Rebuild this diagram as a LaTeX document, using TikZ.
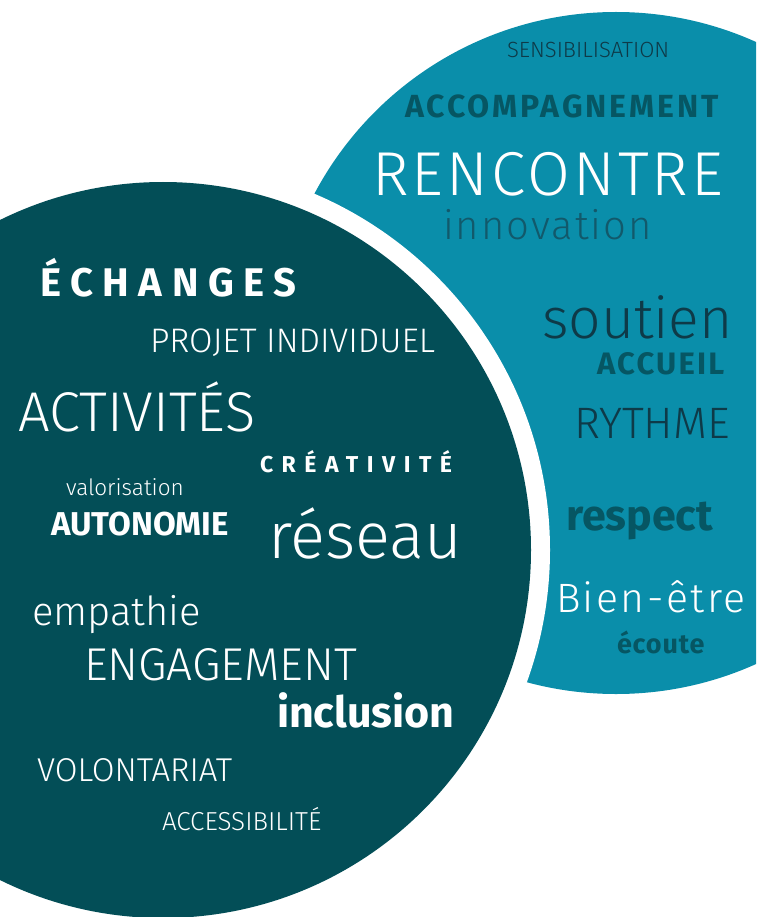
\documentclass[tikz,border=0pt]{standalone}
\usepackage{fontspec}
\setmainfont{Fira Sans Light}[BoldFont={Fira Sans Bold}]
\newcommand{\fsz}[1]{\fontsize{#1}{#1}\selectfont}
\newcommand{\spaced}[1]{\addfontfeatures{LetterSpace=#1}}
\definecolor{circdark}{HTML}{034E57}
\definecolor{circlight}{HTML}{0A8EAA}
\definecolor{navytext}{HTML}{0E3A48}
\definecolor{tealtext}{HTML}{065663}
\definecolor{innotext}{HTML}{12596B}

\begin{document}
\begin{tikzpicture}[x=1pt, y=-1pt,
  word/.style={anchor=base west, inner sep=0pt, outer sep=0pt},
  onlight/.style={word, text=tealtext},
  ondark/.style={word, text=white}]
\useasboundingbox (0,0) rectangle (756,917);
\clip (0,0) rectangle (756,917);
% the two circles, with a white ring round the dark one
\fill [circlight] (616,353) circle [radius=341];
\fill [white] (163,550) circle [radius=387];
\fill [circdark] (163,550) circle [radius=368];

% words on the light circle
\node [word, text=navytext, font=\fsz{22}] (sensib) at (507,58) {SENSIBILISATION};
\node [onlight, font=\fsz{32}\bfseries\spaced{9}] (accomp) at (405,118) {ACCOMPAGNEMENT};
\node [word, text=white, font=\fsz{62}\spaced{5}] (rencontre) at (372,196) {RENCONTRE};
\node [word, text=innotext, font=\fsz{40}\spaced{5}] (innov) at (443,240) {innovation};
\node [word, text=navytext, font=\fsz{57}] (soutien) at (542,338) {soutien};
\node [onlight, font=\fsz{31}\bfseries\spaced{7}] (accueil) at (597,374) {ACCUEIL};
\node [word, text=navytext, font=\fsz{44}] (rythme) at (574,438) {RYTHME};
\node [onlight, font=\fsz{43}\bfseries] (respect) at (566,530) {respect};
\node [word, text=white, font=\fsz{41}\spaced{6}] (bienetre) at (556,612) {Bien-être};
\node [onlight, font=\fsz{27}\bfseries\spaced{3}] (ecoute) at (617,653) {écoute};

% words on the dark circle
\node [ondark, font=\fsz{40}\bfseries\spaced{24}] (echanges) at (40,296) {ÉCHANGES};
\node [ondark, font=\fsz{34}] (projet) at (150,352) {PROJET INDIVIDUEL};
\node [ondark, font=\fsz{56}] (activites) at (18,431) {ACTIVITÉS};
\node [ondark, font=\fsz{23}\bfseries\spaced{37}] (creativite) at (260,472) {CRÉATIVITÉ};
\node [ondark, font=\fsz{22.5}] (valoris) at (66,495) {valorisation};
\node [ondark, font=\fsz{33}\bfseries] (autonomie) at (51,535) {AUTONOMIE};
\node [ondark, font=\fsz{65}] (reseau) at (268,558) {réseau};
\node [ondark, font=\fsz{40}] (empathie) at (32,625) {empathie};
\node [ondark, font=\fsz{46}] (engagement) at (84,680) {ENGAGEMENT};
\node [ondark, font=\fsz{43}\bfseries] (inclusion) at (277,727) {inclusion};
\node [ondark, font=\fsz{33}] (volont) at (37,781) {VOLONTARIAT};
\node [ondark, font=\fsz{26}] (accessib) at (162,830) {ACCESSIBILITÉ};
\end{tikzpicture}
\end{document}
